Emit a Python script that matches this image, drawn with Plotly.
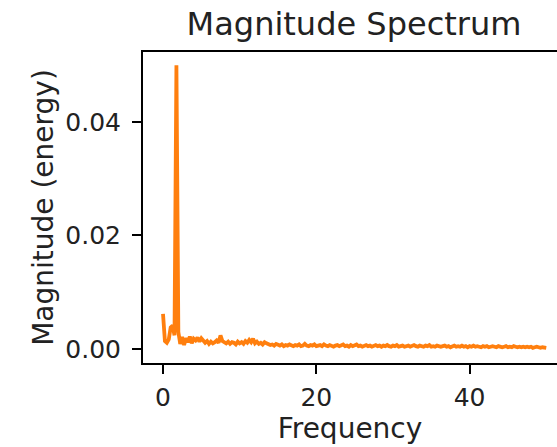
import numpy as np
import plotly.graph_objects as go

# Spectrum sampled every 0.25 Hz from 0 to 50 Hz
freq_step = 0.25
magnitude = [
    0.0062, 0.0014, 0.0011, 0.0017, 0.0038, 0.0041, 0.0024, 0.0500, 0.0030,
    0.0009, 0.0021, 0.0007, 0.0019, 0.0012, 0.0022, 0.0010, 0.0018, 0.0015, 0.0020, 0.0013, 0.0019,
    0.0016, 0.0011, 0.0014, 0.0009, 0.0013, 0.0010, 0.0012, 0.0015, 0.0011, 0.0024, 0.0014, 0.0012,
    0.0010, 0.0013, 0.0009, 0.0012, 0.0011, 0.0008, 0.0013, 0.0010, 0.0012, 0.0009, 0.0014, 0.0011,
    0.0016, 0.0012, 0.0018, 0.0010, 0.0013, 0.0009, 0.0011, 0.0008, 0.0012, 0.0010, 0.0009, 0.0007,
    0.0008, 0.0006, 0.0009, 0.0007, 0.0006, 0.0008, 0.0005, 0.0007, 0.0006, 0.0008, 0.0006, 0.0005,
    0.0007, 0.0006, 0.0008, 0.0005, 0.0006, 0.0009, 0.0006, 0.0005, 0.0007, 0.0006, 0.0008, 0.0005,
    0.0006, 0.0007, 0.0005, 0.0008, 0.0006, 0.0005, 0.0007, 0.0006, 0.0004, 0.0006, 0.0007, 0.0005,
    0.0006, 0.0008, 0.0005, 0.0006, 0.0004, 0.0007, 0.0005, 0.0006, 0.0008, 0.0005, 0.0006, 0.0004,
    0.0006, 0.0007, 0.0005, 0.0006, 0.0004, 0.0005, 0.0007, 0.0005, 0.0006, 0.0004, 0.0006, 0.0005,
    0.0007, 0.0005, 0.0004, 0.0006, 0.0005, 0.0007, 0.0004, 0.0005, 0.0006, 0.0004, 0.0005, 0.0006,
    0.0004, 0.0005, 0.0007, 0.0005, 0.0004, 0.0006, 0.0005, 0.0004, 0.0006, 0.0005, 0.0007, 0.0004,
    0.0005, 0.0004, 0.0006, 0.0005, 0.0004, 0.0005, 0.0006, 0.0004, 0.0005, 0.0003, 0.0005, 0.0006,
    0.0004, 0.0005, 0.0004, 0.0006, 0.0004, 0.0005, 0.0003, 0.0005, 0.0004, 0.0006, 0.0004, 0.0005,
    0.0004, 0.0003, 0.0005, 0.0004, 0.0005, 0.0003, 0.0004, 0.0005, 0.0004, 0.0003, 0.0005, 0.0004,
    0.0003, 0.0004, 0.0005, 0.0003, 0.0004, 0.0003, 0.0005, 0.0004, 0.0003, 0.0004, 0.0003, 0.0004,
    0.0003, 0.0004, 0.0003, 0.0004, 0.0002, 0.0003, 0.0004, 0.0003, 0.0002, 0.0003, 0.0003, 0.0002,
]
frequency = np.arange(len(magnitude)) * freq_step

x_ticks = [0, 20, 40]
y_ticks = [0.00, 0.02, 0.04]

FONT = "DejaVu Sans"
INK = "#000000"
TEXT = "#222222"

fig = go.Figure()
fig.add_trace(go.Scatter(
    x=frequency,
    y=magnitude,
    mode='lines',
    line=dict(color='#ff7f0e', width=3.8),
    showlegend=False,
))

fig.update_layout(
    width=557,
    height=447,
    margin=dict(l=143, r=0, t=52, b=84, autoexpand=False),
    paper_bgcolor='white',
    plot_bgcolor='white',
    font=dict(family=FONT, size=23, color=TEXT),
    title=dict(
        text='Magnitude Spectrum',
        font=dict(family=FONT, size=32, color=TEXT),
        x=354 / 557, xanchor='center', xref='container',
        y=1 - 24 / 447, yanchor='middle', yref='container',
    ),
)

fig.update_xaxes(
    range=[-2.61, 51.4],
    tickvals=x_ticks,
    tickfont=dict(size=25),
    ticks='outside', ticklen=9, tickwidth=2, tickcolor=INK,
    ticklabelstandoff=2,
    showline=True, linecolor=INK, linewidth=2, mirror=True,
    showgrid=False, zeroline=False,
    title=dict(text='Frequency', standoff=7),
)
fig.update_yaxes(
    range=[-0.00247, 0.05233],
    tickvals=y_ticks, tickformat='.2f',
    tickfont=dict(size=25),
    ticks='outside', ticklen=9, tickwidth=2, tickcolor=INK,
    ticklabelstandoff=6,
    showline=True, linecolor=INK, linewidth=2, mirror=False,
    showgrid=False, zeroline=False,
    title=dict(text='Magnitude (energy)', standoff=4),
)

# the page's default body margin would shift the figure by 8px
fig.write_html(
    "out.html",
    config={'displayModeBar': False},
    post_script="document.body.style.margin='0px';",
)
